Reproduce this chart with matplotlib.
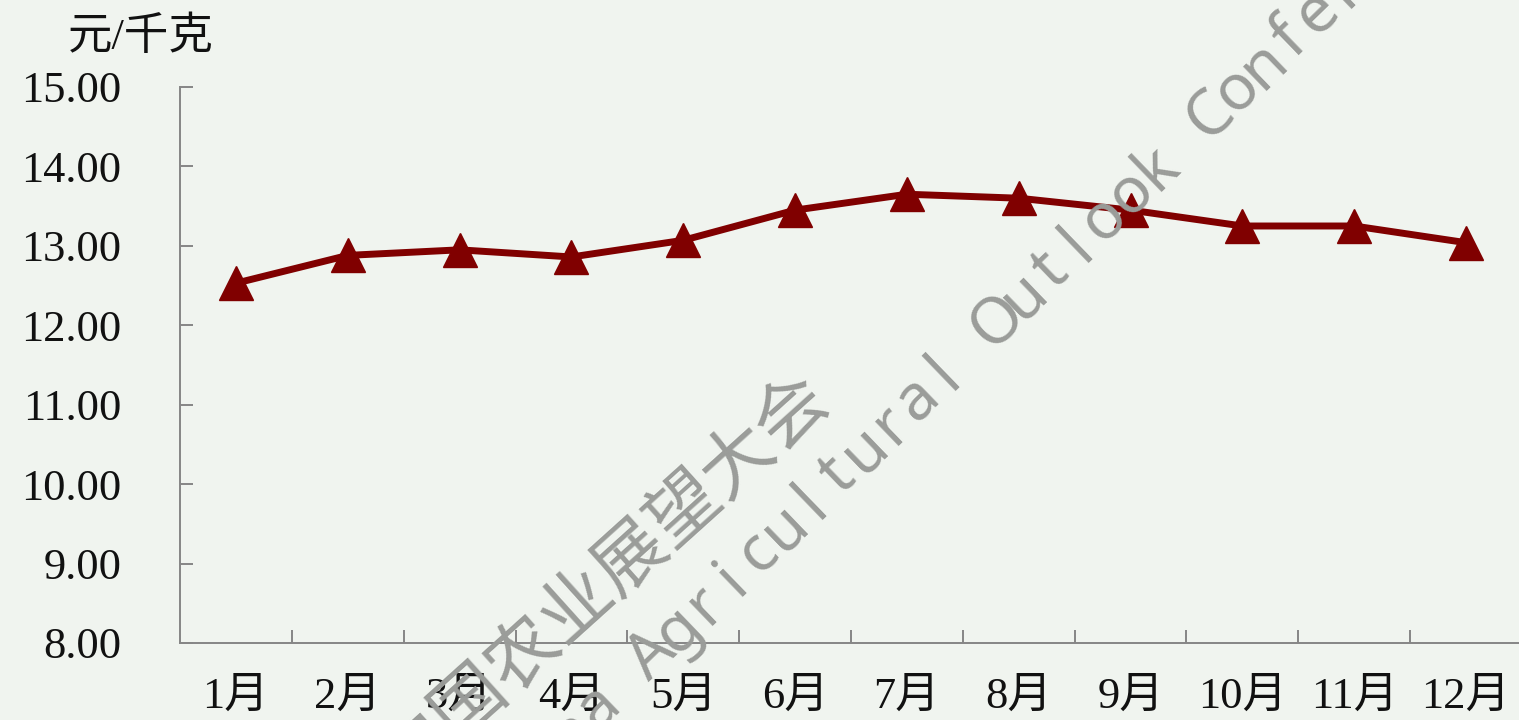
import matplotlib
matplotlib.use("Agg")
import math
import matplotlib.pyplot as plt

months = ["1月", "2月", "3月", "4月", "5月", "6月", "7月", "8月", "9月", "10月", "11月", "12月"]
prices = [12.53, 12.88, 12.95, 12.86, 13.07, 13.45, 13.65, 13.60, 13.45, 13.25, 13.25, 13.04]
yticks = [8, 9, 10, 11, 12, 13, 14, 15]
unit_label = "元/千克"
wm_cn = "中国农业展望大会"
wm_en = "China Agricultural Outlook Conference"

BG = "#F0F4EF"
AXC = "#868686"
RED = "#800000"
WMC = "#9a9c99"
FONT = ["Liberation Serif", "Noto Sans CJK SC"]

W, H = 1519, 720
fig = plt.figure(figsize=(W / 100, H / 100), dpi=100, facecolor=BG)
ax = fig.add_axes([180 / W, (H - 643) / H, 1342 / W, 556 / H], facecolor=BG)

x = list(range(1, len(months) + 1))
ax.plot(x, prices, color=RED, lw=5, marker="^", markersize=25,
        markerfacecolor=RED, markeredgecolor=RED, zorder=3, clip_on=False)

ax.set_xlim(0.5, len(months) + 0.5)
ax.set_ylim(min(yticks), max(yticks))
ax.set_yticks(yticks)
ax.set_yticklabels([f"{v:.2f}" for v in yticks], fontfamily=FONT, fontsize=32, color="#111111")
ax.tick_params(axis="y", direction="in", length=9.4, width=1.4, color=AXC, pad=42)

ax.set_xticks([i + 0.5 for i in x[:-1]])
ax.set_xticklabels([])
ax.tick_params(axis="x", which="major", direction="in", length=9.4, width=1.4, color=AXC)
ax.set_xticks(x, minor=True)
ax.set_xticklabels(months, minor=True, fontfamily=FONT, fontsize=32, color="#111111")
ax.tick_params(axis="x", which="minor", length=0, pad=24)

for s in ["top", "right"]:
    ax.spines[s].set_visible(False)
for s in ["left", "bottom"]:
    ax.spines[s].set_color(AXC)
    ax.spines[s].set_linewidth(1.4)

fig.text(68 / W, 1 - 37 / H, unit_label, fontfamily=FONT, fontsize=32,
         ha="left", va="center", color="#111111")

# watermark (Chinese line)
fig.text(603 / W, 1 - 579 / H, wm_cn, fontfamily=["Noto Sans CJK SC"], fontsize=52,
         fontweight="light", rotation=42, rotation_mode="anchor", ha="center",
         va="center", color=WMC, zorder=2)

# watermark (English line), evenly spaced characters
ang = 44.0
step = 37.0
cx, cy = 966.0, 342.0
mid = (len(wm_en) - 1) / 2.0
for i, ch in enumerate(wm_en):
    if ch == " ":
        continue
    d = (i - mid) * step
    px = cx + d * math.cos(math.radians(ang))
    py = cy - d * math.sin(math.radians(ang))
    fig.text(px / W, 1 - py / H, ch, fontfamily=["Noto Sans"], fontsize=46,
             rotation=ang, rotation_mode="anchor", ha="center", va="center_baseline",
             color=WMC, zorder=2)

fig.savefig("out.png", dpi=100, facecolor=BG)
